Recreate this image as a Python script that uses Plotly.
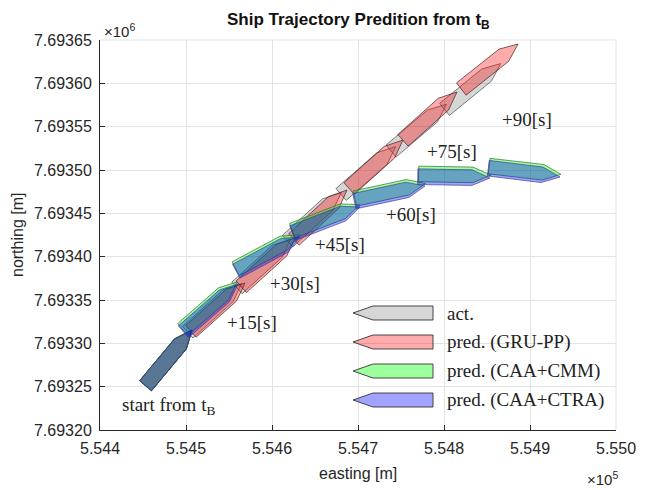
import math
import plotly.graph_objects as go

# ---------------- data ----------------
x_tick_vals = [554400, 554500, 554600, 554700, 554800, 554900, 555000]
x_tick_text = ["5.544", "5.545", "5.546", "5.547", "5.548", "5.549", "5.550"]
y_tick_vals = [7693200, 7693250, 7693300, 7693350, 7693400, 7693450, 7693500,
               7693550, 7693600, 7693650]
y_tick_text = ["7.69320", "7.69325", "7.69330", "7.69335", "7.69340", "7.69345",
               "7.69350", "7.69355", "7.69360", "7.69365"]

# start ship (bow position, heading in degrees from east, counter-clockwise)
start_x = 554507.0
start_y = 7693315.4
start_hdg = 50.0

# bow positions / headings at +15 ... +90 s
act_x = [554564.5, 554621.7, 554680.5, 554743.7, 554802.8, 554865.9]
act_y = [7693369.0, 7693420.2, 7693474.1, 7693526.9, 7693575.9, 7693622.8]
act_hdg = [42.0, 42.0, 42.0, 41.0, 40.0, 39.0]

gru_x = [554568.6, 554626.7, 554687.2, 554752.3, 554815.1, 554886.1]
gru_y = [7693369.6, 7693421.5, 7693476.9, 7693534.6, 7693590.0, 7693645.4]
gru_hdg = [41.6, 42.0, 42.7, 41.8, 41.6, 38.2]

cmm_x = [554559.5, 554632.0, 554702.0, 554778.5, 554854.5, 554936.0]
cmm_y = [7693371.0, 7693425.5, 7693460.0, 7693484.5, 7693494.0, 7693495.0]
cmm_hdg = [41.0, 28.0, 21.0, 12.0, -1.0, -6.5]

ctra_x = [554560.5, 554632.6, 554702.3, 554777.9, 554853.5, 554934.9]
ctra_y = [7693368.5, 7693422.7, 7693457.3, 7693481.5, 7693490.8, 7693491.9]
ctra_hdg = [41.0, 28.0, 21.0, 12.0, -1.0, -7.0]

time_labels = ["+15[s]", "+30[s]", "+45[s]", "+60[s]", "+75[s]", "+90[s]"]
label_x = [554576.7, 554626.7, 554679.1, 554761.6, 554809.3, 554896.5]
label_y = [7693323.5, 7693369.6, 7693413.5, 7693448.1, 7693521.9, 7693558.8]
start_label = "start from t<sub>B</sub>"
start_label_x = 554480.2
start_label_y = 7693227.7

legend_names = ["act.", "pred. (GRU-PP)", "pred. (CAA+CMM)", "pred. (CAA+CTRA)"]

# ---------------- styles ----------------
SHIP_L = 84.0
SHIP_W = 18.0
BOW = 0.25
fills = ["rgba(120,120,120,0.30)", "rgba(255,0,0,0.33)",
         "rgba(0,255,0,0.38)", "rgba(0,0,255,0.36)"]
edges = ["#4a4a4a", "#3a2626", "#2f6f2f", "#404088"]
SERIF = "Liberation Serif, Times New Roman, serif"
SANS = "Liberation Sans, Arial, Helvetica, sans-serif"


def ship(bx, by, hdg):
    th = math.radians(hdg)
    ux, uy = math.cos(th), math.sin(th)
    vx, vy = -uy, ux
    pts = [(0, 0), (-BOW * SHIP_L, SHIP_W / 2), (-SHIP_L, SHIP_W / 2),
           (-SHIP_L, -SHIP_W / 2), (-BOW * SHIP_L, -SHIP_W / 2), (0, 0)]
    xs = [bx + a * ux + b * vx for a, b in pts]
    ys = [by + a * uy + b * vy for a, b in pts]
    return xs, ys


series = [(act_x, act_y, act_hdg), (gru_x, gru_y, gru_hdg),
          (cmm_x, cmm_y, cmm_hdg), (ctra_x, ctra_y, ctra_hdg)]

fig = go.Figure()
for si, (sx, sy, sh) in enumerate(series):
    xs_all = [start_x] + sx
    ys_all = [start_y] + sy
    hs_all = [start_hdg] + sh
    for bx, by, h in zip(xs_all, ys_all, hs_all):
        px, py = ship(bx, by, h)
        fig.add_trace(go.Scatter(x=px, y=py, mode="lines", fill="toself",
                                 fillcolor=fills[si],
                                 line=dict(color=edges[si], width=0.7),
                                 hoverinfo="skip", showlegend=False))

# ---------------- layout helpers (pixel -> paper) ----------------
W_PX, H_PX = 661, 490
ML, MR, MT, MB = 100, 45, 40, 60
PW, PH = W_PX - ML - MR, H_PX - MT - MB


def pxx(px):
    return (px - ML) / PW


def pxy(py):
    return (H_PX - MB - py) / PH


annotations = []
for t, lx, ly in zip(time_labels, label_x, label_y):
    annotations.append(dict(x=lx, y=ly, xref="x", yref="y", text=t,
                            showarrow=False, font=dict(family=SERIF, size=19, color="#222")))
annotations.append(dict(x=start_label_x, y=start_label_y, xref="x", yref="y",
                        text=start_label, showarrow=False,
                        font=dict(family=SERIF, size=19, color="#222")))

# legend (drawn manually, ship icons pointing left)
shapes = []
leg_rows = [313, 342, 371, 400]
for name, f, e, row in zip(legend_names, fills, edges, leg_rows):
    tipx, shx, stx, hh = 353, 373, 433, 7
    path = "M {} {} L {} {} L {} {} L {} {} L {} {} Z".format(
        pxx(tipx), pxy(row), pxx(shx), pxy(row - hh), pxx(stx), pxy(row - hh),
        pxx(stx), pxy(row + hh), pxx(shx), pxy(row + hh))
    shapes.append(dict(type="path", xref="paper", yref="paper", path=path,
                       fillcolor=f, line=dict(color="#333", width=0.9)))
    annotations.append(dict(x=pxx(445), y=pxy(row), xref="paper", yref="paper",
                            xanchor="left", yanchor="middle", text=name, showarrow=False,
                            font=dict(family=SERIF, size=19, color="#222")))

# top/right light frame lines (grid at the limits)
shapes.append(dict(type="line", xref="paper", yref="paper", x0=0, x1=1, y0=1, y1=1,
                   line=dict(color="#e3e3e3", width=1), layer="below"))
shapes.append(dict(type="line", xref="paper", yref="paper", x0=1, x1=1, y0=0, y1=1,
                   line=dict(color="#e3e3e3", width=1), layer="below"))

# title, axis labels, exponents
annotations += [
    dict(x=0.5, y=pxy(21), xref="paper", yref="paper",
         text="<b>Ship Trajectory Predition from t<sub>B</sub></b>",
         showarrow=False, yanchor="middle", font=dict(family=SANS, size=17, color="#111")),
    dict(x=pxx(358), y=pxy(473), xref="paper", yref="paper", text="easting [m]",
         showarrow=False, yanchor="middle", font=dict(family=SANS, size=16, color="#262626")),
    dict(x=pxx(17), y=0.5, xref="paper", yref="paper", text="northing [m]", textangle=-90,
         showarrow=False, xanchor="center", font=dict(family=SANS, size=16, color="#262626")),
    dict(x=pxx(102), y=pxy(30), xref="paper", yref="paper", text="×10<sup>6</sup>",
         showarrow=False, xanchor="left", yanchor="middle", font=dict(family=SANS, size=15, color="#262626")),
    dict(x=pxx(620), y=pxy(478), xref="paper", yref="paper", text="×10<sup>5</sup>",
         showarrow=False, xanchor="right", yanchor="middle", font=dict(family=SANS, size=15, color="#262626")),
]

fig.update_layout(
    width=W_PX, height=H_PX,
    margin=dict(l=ML, r=MR, t=MT, b=MB, pad=0),
    paper_bgcolor="white", plot_bgcolor="white",
    showlegend=False,
    annotations=annotations,
    shapes=shapes,
    xaxis=dict(range=[x_tick_vals[0], x_tick_vals[-1]], tickvals=x_tick_vals, ticktext=x_tick_text,
               showgrid=True, gridcolor="#e3e3e3", gridwidth=1, zeroline=False,
               showline=True, linecolor="#262626", linewidth=1,
               ticks="inside", ticklen=5, tickcolor="#262626",
               tickfont=dict(family=SANS, size=16, color="#262626"), ticklabelstandoff=4),
    yaxis=dict(range=[y_tick_vals[0], y_tick_vals[-1]], tickvals=y_tick_vals, ticktext=y_tick_text,
               showgrid=True, gridcolor="#e3e3e3", gridwidth=1, zeroline=False,
               showline=True, linecolor="#262626", linewidth=1,
               ticks="inside", ticklen=5, tickcolor="#262626",
               tickfont=dict(family=SANS, size=16, color="#262626"), ticklabelstandoff=4),
)

fig.write_html("out.html")
